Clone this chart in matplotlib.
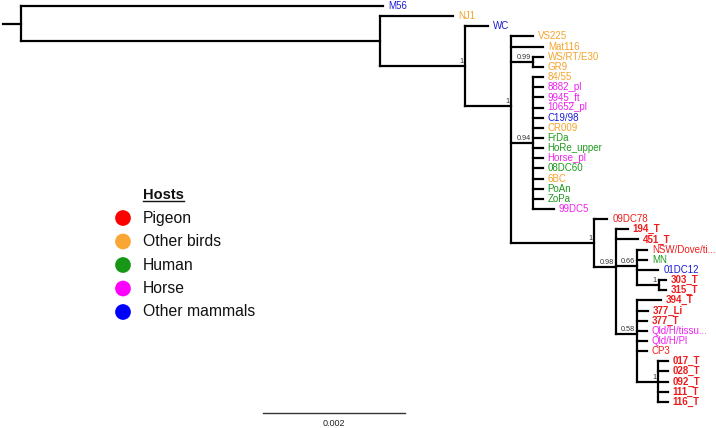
import matplotlib
matplotlib.use("Agg")
import matplotlib.pyplot as plt
from matplotlib.lines import Line2D

plt.rcParams['font.family'] = ['Liberation Sans', 'DejaVu Sans']

# ---------------- data ----------------
# Tree (Newick) with branch lengths (substitutions/site) and support values
newick = ("(M56:0.00510,(NJ1:0.00103,(WC:0.00032,(VS225:0.00030,Mat116:0.00045,"
          "(WS/RT/E30:0.00014,GR9:0.00014)0.99:0.00030,"
          "(84/55:0.00014,8882_pl:0.00014,9945_ft:0.00014,10652_pl:0.00014,C19/98:0.00014,"
          "CR009:0.00014,FrDa:0.00014,HoRe_upper:0.00014,Horse_pl:0.00014,08DC60:0.00014,"
          "6BC:0.00014,PoAn:0.00014,ZoPa:0.00014,99DC5:0.00030)0.94:0.00030,"
          "(09DC78:0.00018,(194_T:0.00017,451_T:0.00031,"
          "(NSW/Dove/ti...:0.00014,MN:0.00014,01DC12:0.00030,(303_T:0.00010,315_T:0.00010)1:0.00031)0.66:0.00030,"
          "(394_T:0.00034,377_Li:0.00015,377_T:0.00014,Qld/H/tissu...:0.00014,Qld/H/Pl:0.00014,CP3:0.00014,"
          "(017_T:0.00013,028_T:0.00013,092_T:0.00013,111_T:0.00013,116_T:0.00013)1:0.00030)0.58:0.00030"
          ")0.98:0.00030)1:0.00117)1:0.00065)1:0.00120):0.00506):0.00025;")

tip_names = ["M56", "NJ1", "WC", "VS225", "Mat116", "WS/RT/E30", "GR9", "84/55", "8882_pl",
             "9945_ft", "10652_pl", "C19/98", "CR009", "FrDa", "HoRe_upper", "Horse_pl",
             "08DC60", "6BC", "PoAn", "ZoPa", "99DC5", "09DC78", "194_T", "451_T",
             "NSW/Dove/ti...", "MN", "01DC12", "303_T", "315_T", "394_T", "377_Li", "377_T",
             "Qld/H/tissu...", "Qld/H/Pl", "CP3", "017_T", "028_T", "092_T", "111_T", "116_T"]
tip_hosts = ["Other mammals", "Other birds", "Other mammals", "Other birds", "Other birds",
             "Other birds", "Other birds", "Other birds", "Horse", "Horse", "Horse",
             "Other mammals", "Other birds", "Human", "Human", "Horse", "Human", "Other birds",
             "Human", "Human", "Horse", "Pigeon", "Pigeon", "Pigeon", "Pigeon", "Human",
             "Other mammals", "Pigeon", "Pigeon", "Pigeon", "Pigeon", "Pigeon", "Horse", "Horse",
             "Pigeon", "Pigeon", "Pigeon", "Pigeon", "Pigeon", "Pigeon"]
bold_tips = ["194_T", "451_T", "303_T", "315_T", "394_T", "377_Li", "377_T",
             "017_T", "028_T", "092_T", "111_T", "116_T"]

host_names = ["Pigeon", "Other birds", "Human", "Horse", "Other mammals"]
host_text_colors = ["#EE1C1C", "#F5A42A", "#1E9A1E", "#EE22EE", "#1A1AD8"]
host_dot_colors = ["#FF0000", "#FAA634", "#179617", "#FF00FF", "#0000FF"]

scale_value = 0.002

# ---------------- parse newick ----------------
def parse(s):
    s = s.strip().rstrip(";")
    pos = 0
    def node():
        nonlocal pos
        n = {"children": [], "label": "", "length": 0.0}
        if s[pos] == "(":
            pos += 1
            while True:
                n["children"].append(node())
                if s[pos] == ",":
                    pos += 1
                    continue
                if s[pos] == ")":
                    pos += 1
                    break
        start = pos
        while pos < len(s) and s[pos] not in ",():":
            pos += 1
        n["label"] = s[start:pos]
        if pos < len(s) and s[pos] == ":":
            pos += 1
            start = pos
            while pos < len(s) and s[pos] not in ",()":
                pos += 1
            n["length"] = float(s[start:pos])
        return n
    return node()

root = parse(newick)

tip_index = {}
def layout(n, x0):
    n["x0"] = x0
    n["x"] = x0 + n["length"]
    if not n["children"]:
        n["y"] = len(tip_index)
        tip_index[n["label"]] = n["y"]
    else:
        for c in n["children"]:
            layout(c, n["x"])
        n["y"] = sum(c["y"] for c in n["children"]) / len(n["children"])
layout(root, 0.0)

# ---------------- figure ----------------
W, H = 716, 428
fig = plt.figure(figsize=(W / 100, H / 100), dpi=100)
ax = fig.add_axes([0, 0, 1, 1])
ax.axis("off")
px = scale_value / 142.0
ax.set_xlim(-3 * px, -3 * px + W * px)
tip_px0, tip_step = 6.0, 10.15
ax.set_ylim((H - tip_px0) / tip_step, -tip_px0 / tip_step)

lw = 1.6
host_col = dict(zip(host_names, host_text_colors))
name_host = dict(zip(tip_names, tip_hosts))

def draw(n):
    ax.plot([n["x0"], n["x"]], [n["y"], n["y"]], color="black", lw=lw,
            solid_capstyle="projecting", zorder=2)
    if n["children"]:
        ys = [c["y"] for c in n["children"]]
        ax.plot([n["x"], n["x"]], [min(ys), max(ys)], color="black", lw=lw,
                solid_capstyle="projecting", zorder=2)
        if n["label"]:
            ax.annotate(n["label"], (n["x"], n["y"]), xytext=(-1.5, 0.6),
                        textcoords="offset points", ha="right", va="bottom",
                        fontsize=5.2, color="#333333")
        for c in n["children"]:
            draw(c)
    else:
        name = n["label"]
        ax.annotate(name, (n["x"], n["y"]), xytext=(3.6, 0), textcoords="offset points",
                    ha="left", va="center", fontsize=7.0,
                    color=host_col[name_host[name]],
                    fontweight="bold" if name in bold_tips else "normal")
draw(root)

# legend
lx_dot, lx_txt = 123 / W, 143 / W
ly0, lstep = 218, 23.5
title = fig.text(lx_txt, 1 - 195 / H, "Hosts", fontsize=10.5, fontweight="bold",
                 ha="left", va="center", color="#111111")
for k, (hn, hc) in enumerate(zip(host_names, host_dot_colors)):
    yy = 1 - (ly0 + k * lstep) / H
    ax.scatter([lx_dot], [yy], s=128, color=hc, transform=ax.transAxes,
               edgecolors="none", zorder=3)
    fig.text(lx_txt, yy, hn, fontsize=11.3, ha="left", va="center", color="#111111")
fig.canvas.draw()
bb = title.get_window_extent(fig.canvas.get_renderer())
fig.add_artist(Line2D([bb.x0 / W, bb.x1 / W], [bb.y0 / H + 0.002, bb.y0 / H + 0.002],
                      color="#111111", lw=1.0, transform=fig.transFigure))

# scale bar
sb_x0 = (263 - 3) * px
sb_y = (413 - tip_px0) / tip_step
ax.plot([sb_x0, sb_x0 + scale_value], [sb_y, sb_y], color="#333333", lw=1.0)
ax.annotate(f"{scale_value}", (sb_x0 + scale_value / 2, sb_y), xytext=(0, -4),
            textcoords="offset points", ha="center", va="top", fontsize=6.5, color="#222222")

fig.savefig("out.png", dpi=100, facecolor="white")
